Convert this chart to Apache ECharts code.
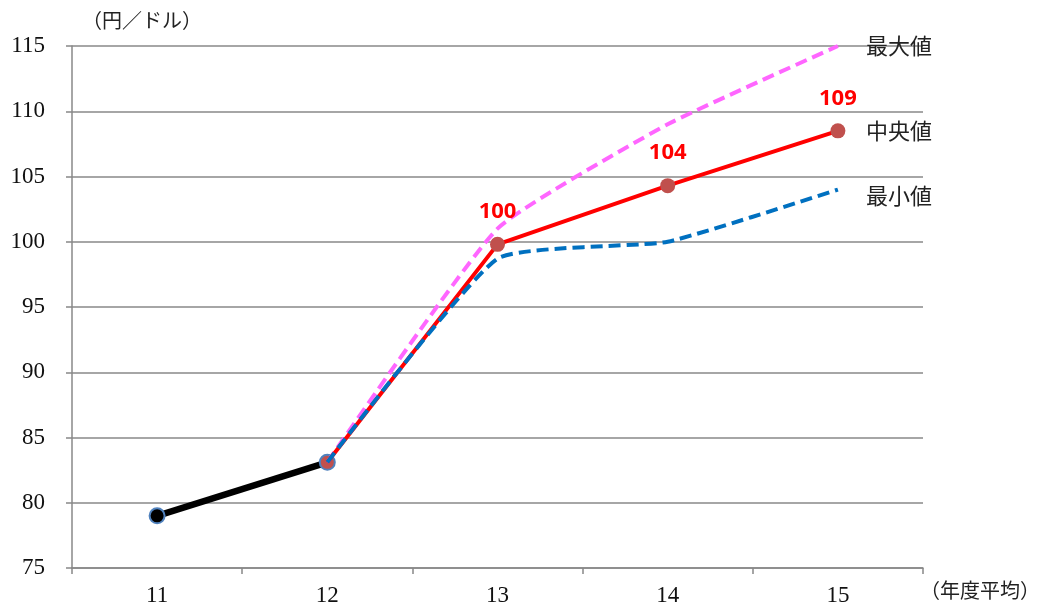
<!DOCTYPE html>
<html><head><meta charset="utf-8">
<script src="https://cdn.jsdelivr.net/npm/echarts@6/dist/echarts.min.js"></script>
<style>html,body{margin:0;padding:0;background:#fff}#c{width:1043px;height:603px}</style>
</head><body><div id="c"></div>
<script>
const categories = ['11','12','13','14','15'];
const actual = [79.0, 83.1, null, null, null];
const median = [null, 83.1, 99.8, 104.3, 108.5];
const maxVals = [null, 83.1, 101.0, 109.0, 115.0];
const minVals = [null, 83.1, 98.7, 100.0, 104.0];
const yMin = 75, yMax = 115, yStep = 5;

const chart = echarts.init(document.getElementById('c'));
const serif = '"Liberation Serif", "Noto Sans CJK JP", serif';
const cjk = '"Noto Sans CJK JP", sans-serif';
chart.setOption({
  animation: false,
  grid: {left: 72, right: 120, top: 46, bottom: 35, outerBoundsMode: 'none', containLabel: false},
  xAxis: {
    type: 'category', data: categories, boundaryGap: true,
    axisLine: {lineStyle: {color: '#888', width: 1.5}},
    axisTick: {show: true, length: 6, lineStyle: {color: '#888', width: 1.5}},
    axisLabel: {color: '#111', fontFamily: serif, fontSize: 23, margin: 16}
  },
  yAxis: {
    type: 'value', min: yMin, max: yMax, interval: yStep,
    axisLine: {show: true, lineStyle: {color: '#888', width: 1.5}},
    axisTick: {show: true, length: 6, lineStyle: {color: '#888', width: 1.5}},
    splitLine: {lineStyle: {color: '#888', width: 1.5}},
    axisLabel: {color: '#111', fontFamily: serif, fontSize: 23, margin: 27}
  },
  graphic: [
    {type: 'text', left: 82, top: 10, style: {text: '（円／ドル）', font: '20px ' + cjk, fill: '#222'}},
    {type: 'text', left: 920, top: 580, style: {text: '（年度平均）', font: '20px ' + cjk, fill: '#222'}}
  ],
  series: [
    {
      name: '実績', type: 'line', data: [
        {value: actual[0], itemStyle: {color: '#000', borderColor: '#4F81BD', borderWidth: 2}},
        {value: actual[1], itemStyle: {color: '#C0504D', borderColor: '#4F81BD', borderWidth: 2}},
        actual[2], actual[3], actual[4]],
      symbol: 'circle', symbolSize: 15,
      lineStyle: {color: '#000', width: 6.5},
      itemStyle: {color: '#000'}, z: 2
    },
    {
      name: '最大値', type: 'line', data: maxVals, smooth: 0.15, showSymbol: false,
      lineStyle: {color: '#FF66FF', width: 4, type: [12, 6]},
      itemStyle: {color: '#FF66FF'}, z: 3,
      endLabel: {show: true, formatter: '{a}', color: '#222', fontFamily: cjk, fontSize: 22, distance: 28, offset: [0, 0]}
    },
    {
      name: '中央値', type: 'line',
      data: median.map((v, i) => i === 1 ? {value: v, symbolSize: 0} : v),
      symbol: 'circle', symbolSize: 15,
      lineStyle: {color: '#FF0000', width: 4},
      itemStyle: {color: '#C0504D'}, z: 4,
      label: {
        show: true, position: 'top', distance: 14, color: '#FF0000',
        fontFamily: '"Open Sans", sans-serif', fontWeight: 'bold', fontSize: 22,
        formatter: p => p.dataIndex >= 2 ? Math.round(p.value) : ''
      },
      endLabel: {show: true, formatter: '{a}', color: '#222', fontFamily: cjk, fontSize: 22, distance: 28}
    },
    {
      name: '最小値', type: 'line', data: minVals, smooth: 0.15, showSymbol: false,
      lineStyle: {color: '#0070C0', width: 4, type: [12, 6]},
      itemStyle: {color: '#0070C0'}, z: 5,
      endLabel: {show: true, formatter: '{a}', color: '#222', fontFamily: cjk, fontSize: 22, distance: 28, offset: [0, 6]}
    }
  ]
});
</script></body></html>
